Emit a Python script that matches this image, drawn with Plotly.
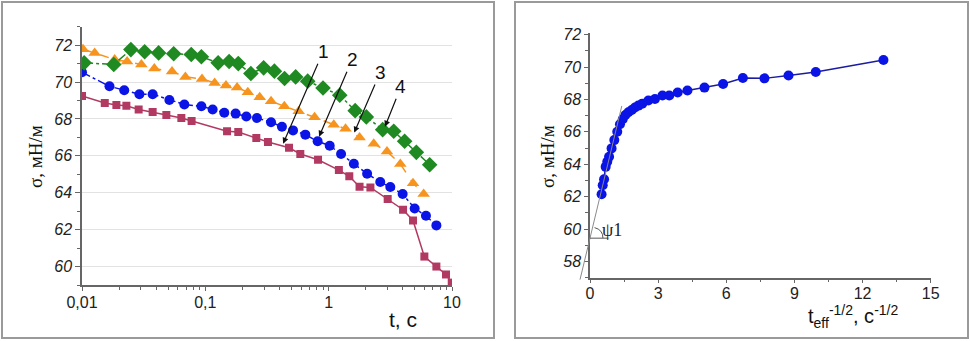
import math
import plotly.graph_objects as go

# ---------------- data: left panel (sigma vs t, log scale) ----------------
t_sq = [0.01, 0.0153, 0.0190, 0.0229, 0.0288, 0.0374, 0.0483, 0.0639, 0.0774, 0.150, 0.185,
        0.259, 0.322, 0.477, 0.589, 0.820, 1.21, 1.47, 1.78, 2.18, 3.01, 4.01, 4.83, 5.97,
        7.47, 8.94, 9.95]
s_sq = [69.25, 68.87, 68.76, 68.71, 68.51, 68.38, 68.22, 68.05, 67.89, 67.33, 67.29,
        66.97, 66.75, 66.44, 66.10, 65.79, 65.23, 64.89, 64.33, 64.29, 63.66, 63.08, 62.50, 60.54,
        60.00, 59.57, 59.13]

t_ci = [0.01, 0.0167, 0.0220, 0.0292, 0.0374, 0.0511, 0.0676, 0.0929, 0.1146, 0.1425, 0.176,
        0.215, 0.262, 0.341, 0.418, 0.514, 0.647, 0.814, 1.02, 1.26, 1.60, 2.05, 2.62, 3.16,
        3.98, 4.98, 6.15, 7.47]
s_ci = [70.53, 69.77, 69.56, 69.34, 69.34, 69.03, 68.78, 68.69, 68.51, 68.34, 68.29,
        68.13, 68.05, 67.82, 67.58, 67.38, 67.15, 66.79, 66.55, 66.10, 65.57, 65.03, 64.58, 64.31,
        63.93, 63.15, 62.75, 62.23]

t_tr = [0.0102, 0.01267, 0.0184, 0.0232, 0.0303, 0.0386, 0.0537, 0.0689, 0.094, 0.119, 0.147,
        0.181, 0.221, 0.276, 0.341, 0.437, 0.571, 0.769, 1.10, 1.37, 1.78, 2.32, 2.97, 3.81,
        4.83, 5.89]
s_tr = [71.78, 71.58, 71.22, 71.11, 70.95, 70.73, 70.57, 70.28, 70.17, 69.95, 69.81,
        69.70, 69.45, 69.18, 68.96, 68.69, 68.42, 68.09, 67.69, 67.47, 67.00, 66.66, 66.24, 65.56,
        64.52, 63.93]

t_di = [0.0104, 0.0181, 0.0249, 0.0322, 0.0418, 0.0554, 0.0769, 0.0929, 0.127, 0.156, 0.185,
        0.234, 0.297, 0.363, 0.439, 0.540, 0.676, 0.900, 1.23, 1.64, 2.02, 2.74, 3.37, 4.13,
        5.14, 6.59]
s_di = [71.04, 70.95, 71.76, 71.64, 71.58, 71.53, 71.49, 71.37, 71.04, 71.11, 71.00,
        70.46, 70.77, 70.59, 70.19, 70.28, 70.05, 69.68, 69.29, 68.45, 68.11, 67.42, 67.33, 66.79,
        66.19, 65.52]

curve_labels = ["1", "2", "3", "4"]
# arrow tip points (t, sigma) for the curve labels
label_t = [0.427, 0.836, 1.61, 2.86]
label_s = [66.66, 67.04, 67.26, 67.58]

left_xtickvals = [0.01, 0.1, 1, 10]
left_xticktext = ["0,01", "0,1", "1", "10"]

# ---------------- data: right panel (sigma vs t_eff^-1/2) ----------------
x_r = [0.51, 0.56, 0.62, 0.69, 0.76, 0.84, 0.95, 1.07, 1.20, 1.32, 1.44, 1.56, 1.69, 1.84,
       1.98, 2.13, 2.30, 2.57, 2.86, 3.19, 3.49, 3.86, 4.29, 5.04, 5.86, 6.73, 7.68, 8.74,
       9.94, 12.92]
s_r = [62.15, 62.70, 63.08, 63.84, 64.15, 64.46, 64.98, 65.49, 66.01, 66.47, 66.78, 67.04,
       67.21, 67.35, 67.50, 67.62, 67.74, 67.93, 68.03, 68.24, 68.24, 68.43, 68.55, 68.73,
       68.95, 69.32, 69.30, 69.48, 69.69, 70.43]

# tangent line and angle mark
tan_x = [-0.44, 1.40]
tan_s = [56.88, 67.60]
psi_base_s = 59.44

C_SQ = "#b23a62"
C_CI = "#0a14e6"
C_TR = "#f7941d"
C_DI = "#1f8a22"

W, H = 970, 341

# right-panel geometry (domains and ranges) – used for the decoration that leaves the plot area
X2_DOM = [590 / W, 930.7 / W]
Y2_DOM = [1 - 277.7 / H, 1 - 33 / H]
X2_RANGE = [0, 15]
Y2_RANGE = [57, 72.1]


def x2_paper(v):
    return X2_DOM[0] + (v - X2_RANGE[0]) / (X2_RANGE[1] - X2_RANGE[0]) * (X2_DOM[1] - X2_DOM[0])


def y2_paper(v):
    return Y2_DOM[0] + (v - Y2_RANGE[0]) / (Y2_RANGE[1] - Y2_RANGE[0]) * (Y2_DOM[1] - Y2_DOM[0])


fig = go.Figure()

fig.add_trace(go.Scatter(x=t_sq, y=s_sq, mode="lines+markers", xaxis="x", yaxis="y",
                         line=dict(color=C_SQ, width=1.5),
                         marker=dict(symbol="square", size=8, color=C_SQ)))
fig.add_trace(go.Scatter(x=t_ci, y=s_ci, mode="lines+markers", xaxis="x", yaxis="y",
                         line=dict(color=C_CI, width=1.5, dash="dashdot"),
                         marker=dict(symbol="circle", size=10, color=C_CI)))
fig.add_trace(go.Scatter(x=t_tr, y=s_tr, mode="lines+markers", xaxis="x", yaxis="y",
                         line=dict(color=C_TR, width=1.5, dash="dash"),
                         marker=dict(symbol="triangle-up", size=11, color=C_TR)))
fig.add_trace(go.Scatter(x=t_di, y=s_di, mode="lines+markers", xaxis="x", yaxis="y",
                         line=dict(color=C_DI, width=1.5, dash="dashdot"),
                         marker=dict(symbol="diamond", size=12, color=C_DI)))

fig.add_trace(go.Scatter(x=x_r, y=s_r, mode="lines+markers", xaxis="x2", yaxis="y2",
                         line=dict(color="#1c1ca0", width=1.5),
                         marker=dict(symbol="circle", size=10, color=C_CI)))

axis_line = dict(showline=True, linecolor="#666666", linewidth=1.5, zeroline=False,
                 ticks="outside", tickcolor="#666666", tickwidth=1.2,
                 automargin=False)

tickfont_up = dict(family="Liberation Sans, Arial", size=16, color="#222222")
tickfont_it = dict(family="Liberation Sans, Arial", size=16, color="#222222", style="italic")

minor_log = [k * 10 ** e for e in (-2, -1, 0) for k in range(2, 10)]

fig.update_layout(
    width=W, height=H,
    margin=dict(l=0, r=0, t=0, b=0, pad=0),
    paper_bgcolor="white", plot_bgcolor="white",
    showlegend=False,
    xaxis=dict(domain=[82 / W, 452 / W], type="log", range=[-2, 1], ticklen=4,
               ticklabelstandoff=-2,
               tickvals=left_xtickvals, ticktext=left_xticktext, tickfont=tickfont_up,
               showgrid=False,
               minor=dict(ticks="outside", ticklen=3, tickcolor="#666666", tickvals=minor_log,
                          showgrid=False),
               anchor="y", **axis_line),
    yaxis=dict(domain=[1 - 285 / H, 1 - 26.7 / H], range=[59, 73], ticklen=5,
               tick0=0, dtick=2, tickfont=tickfont_it,
               showgrid=True, gridcolor="#e2e2e2", gridwidth=1,
               minor=dict(ticks="outside", ticklen=3, tickcolor="#666666", dtick=1, tick0=0,
                          showgrid=False),
               anchor="x", **axis_line),
    xaxis2=dict(domain=X2_DOM, range=X2_RANGE, tick0=0, dtick=3, ticklen=4,
                ticklabelstandoff=-4,
                tickfont=tickfont_up, showgrid=False,
                minor=dict(ticks="outside", ticklen=3, tickcolor="#666666", dtick=1.5, tick0=0,
                           showgrid=False),
                anchor="y2", **axis_line),
    yaxis2=dict(domain=Y2_DOM, range=Y2_RANGE, tick0=0, dtick=2, ticklen=4,
                tickfont=tickfont_it, showgrid=False,
                minor=dict(ticks="outside", ticklen=3, tickcolor="#666666", dtick=1, tick0=0,
                           showgrid=False),
                anchor="x2", **axis_line),
)

shapes = []
# panel frames
shapes.append(dict(type="rect", xref="paper", yref="paper", x0=2 / W, x1=494 / W,
                   y0=1 - 338 / H, y1=1 - 2 / H, line=dict(color="#9a9a9a", width=2)))
shapes.append(dict(type="rect", xref="paper", yref="paper", x0=515 / W, x1=968 / W,
                   y0=1 - 338 / H, y1=1 - 2 / H, line=dict(color="#9a9a9a", width=2)))
# tangent (extends past the axes, so drawn in paper units)
shapes.append(dict(type="line", xref="paper", yref="paper",
                   x0=x2_paper(tan_x[0]), y0=y2_paper(tan_s[0]),
                   x1=x2_paper(tan_x[1]), y1=y2_paper(tan_s[1]),
                   line=dict(color="#8a8a8a", width=1)))
# horizontal base of angle
shapes.append(dict(type="line", xref="x2", yref="y2", x0=0, y0=psi_base_s, x1=0.81,
                   y1=psi_base_s, line=dict(color="#555555", width=1)))
# angle arc
shapes.append(dict(type="path", xref="x2", yref="y2",
                   path=f"M 0.57,{psi_base_s} Q 0.57,59.96 0.20,60.09",
                   line=dict(color="#555555", width=1)))
fig.update_layout(shapes=shapes)

ann = []
offsets = [(40, -92), (33, -77), (26, -60), (16, -40)]
for lab, tx, sy, (dx, dy) in zip(curve_labels, label_t, label_s, offsets):
    ann.append(dict(x=math.log10(tx), y=sy, xref="x", yref="y", text=lab,
                    showarrow=True, arrowhead=2, arrowsize=1, arrowwidth=1.2,
                    arrowcolor="#111111", ax=dx, ay=dy,
                    font=dict(family="Liberation Sans, Arial", size=19, color="#111111")))

center = dict(xanchor="center", yanchor="middle", showarrow=False)
ann.append(dict(x=403 / W, y=1 - 319 / H, xref="paper", yref="paper", text="t, c",
                font=dict(family="Liberation Sans, Arial", size=21, color="#111111"), **center))
ann.append(dict(x=35 / W, y=1 - 157 / H, xref="paper", yref="paper", text="σ, мН/м",
                textangle=-90,
                font=dict(family="Liberation Serif, Times New Roman", size=19, color="#111111"),
                **center))
ann.append(dict(x=547 / W, y=1 - 157 / H, xref="paper", yref="paper", text="σ, мН/м",
                textangle=-90,
                font=dict(family="Liberation Serif, Times New Roman", size=19, color="#111111"),
                **center))
ann.append(dict(x=853 / W, y=1 - 316 / H, xref="paper", yref="paper",
                text="t<sub>eff</sub><sup>-1/2</sup>, c<sup>-1/2</sup>",
                font=dict(family="Liberation Sans, Arial", size=20, color="#111111"), **center))
ann.append(dict(x=0.95, y=59.95, xref="x2", yref="y2", text="ψ1",
                font=dict(family="Liberation Serif, Times New Roman", size=18, color="#222222"),
                **center))
fig.update_layout(annotations=ann)

fig.write_html("out.html", config={"displayModeBar": False},
               post_script="document.body.style.margin='0';document.body.style.overflow='hidden';")
